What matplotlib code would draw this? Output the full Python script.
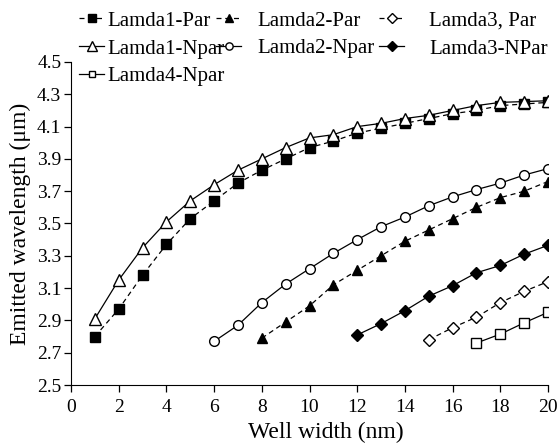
import matplotlib
matplotlib.use("Agg")
import matplotlib.pyplot as plt

plt.rcParams['font.family'] = ['Liberation Serif', 'DejaVu Serif']

# well width (nm)
x_l1 = list(range(1, 21))
x_l2n = list(range(6, 21))
x_l2p = list(range(8, 21))
x_l3n = list(range(12, 21))
x_l3p = list(range(15, 21))
x_l4n = list(range(17, 21))

# emitted wavelength (um)
lam1_par = [2.80, 2.97, 3.18, 3.37, 3.53, 3.64, 3.75, 3.83, 3.90, 3.97,
            4.01, 4.06, 4.09, 4.12, 4.15, 4.18, 4.20, 4.23, 4.24, 4.25]
lam1_npar = [2.91, 3.15, 3.35, 3.51, 3.64, 3.74, 3.83, 3.90, 3.97, 4.03,
             4.05, 4.10, 4.12, 4.15, 4.17, 4.20, 4.23, 4.25, 4.255, 4.26]
lam2_npar = [2.77, 2.87, 3.01, 3.125, 3.22, 3.315, 3.40, 3.48, 3.54, 3.61,
             3.665, 3.71, 3.75, 3.80, 3.84]
lam2_par = [2.79, 2.89, 2.99, 3.12, 3.21, 3.30, 3.39, 3.46, 3.53, 3.60,
            3.66, 3.70, 3.76]
lam3_npar = [2.81, 2.88, 2.96, 3.05, 3.115, 3.195, 3.24, 3.31, 3.365]
lam3_par = [2.78, 2.855, 2.92, 3.01, 3.08, 3.14]
lam4_npar = [2.76, 2.815, 2.885, 2.95]

fig = plt.figure(figsize=(5.6, 4.43), dpi=100)
ax = fig.add_axes([71 / 560, 58 / 443, 477 / 560, 323 / 443])

kw = dict(color='black', lw=0.9, ms=7, mec='black')
h1, = ax.plot(x_l1, lam1_par, ls=(0, (4, 3)), marker='s', mfc='black', label='Lamda1-Par', **kw)
h2, = ax.plot(x_l1, lam1_npar, ls='-', marker='^', mfc='white', label='Lamda1-Npar', **{**kw, 'ms': 9})
h3, = ax.plot(x_l2p, lam2_par, ls=(0, (4, 3)), marker='^', mfc='black', label='Lamda2-Par', **kw)
h4, = ax.plot(x_l2n, lam2_npar, ls='-', marker='o', mfc='white', label='Lamda2-Npar', **kw)
h5, = ax.plot(x_l3p, lam3_par, ls=(0, (4, 3)), marker='D', mfc='white', label='Lamda3, Par', **{**kw, 'ms': 6.5})
h6, = ax.plot(x_l3n, lam3_npar, ls='-', marker='D', mfc='black', label='Lamda3-NPar', **{**kw, 'ms': 6.5})
h7, = ax.plot(x_l4n, lam4_npar, ls='-', marker='s', mfc='white', label='Lamda4-Npar', **{**kw, 'ms': 6.5})

ax.set_xlim(0, 20)
ax.set_ylim(2.5, 4.5)
ax.set_xticks(range(0, 21, 2))
ax.set_yticks([2.5, 2.7, 2.9, 3.1, 3.3, 3.5, 3.7, 3.9, 4.1, 4.3, 4.5])
ax.set_yticklabels(['2.5', '2.7', '2.9', '3.1', '3.3', '3.5', '3.7', '3.9', '4.1', '4.3', '4.5'])
ax.spines['top'].set_visible(False)
ax.spines['right'].set_visible(False)
ax.tick_params(direction='out', length=5, width=0.9, labelsize=14)
ax.tick_params(axis='x', pad=5)
ax.tick_params(axis='y', pad=2)
ax.set_xlabel('Well width (nm)', fontsize=17, labelpad=3)
ax.xaxis.set_label_coords(0.535, -0.115)
ax.set_ylabel('Emitted wavelength (\u03bcm)', fontsize=17, labelpad=4)

legend_kw = dict(loc='upper left', frameon=False, fontsize=15, borderpad=0,
                 labelspacing=0.4, handlelength=1.2, borderaxespad=0, markerscale=0.75)
top = 1 - 11 / 443
fig.legend(handles=[h1, h2, h7], bbox_to_anchor=(79 / 560, top),
           handletextpad=0.15, **legend_kw)
fig.legend(handles=[h3, h4], bbox_to_anchor=(216 / 560, top),
           handletextpad=0.8, **legend_kw)
fig.legend(handles=[h5, h6], bbox_to_anchor=(379 / 560, top),
           handletextpad=1.2, **legend_kw)

fig.savefig('out.png', dpi=100)
